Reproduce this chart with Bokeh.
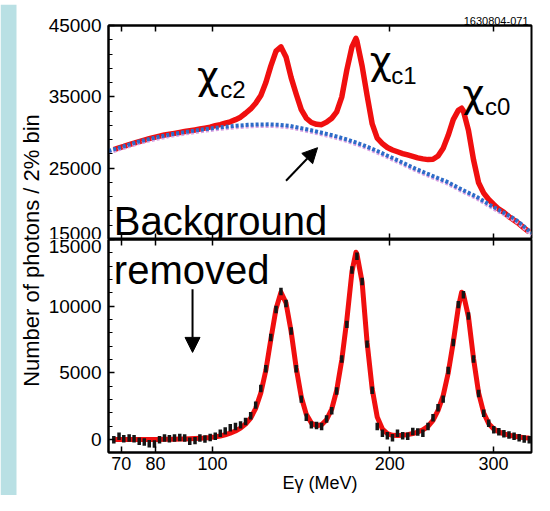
import numpy as np
from bokeh.plotting import figure
from bokeh.layouts import row, column
from bokeh.models import (Range1d, FixedTicker, LogAxis, Label, Arrow, NormalHead,
                          BoxAnnotation, PrintfTickFormatter, CustomJSTickFormatter)
from bokeh.embed import file_html
from bokeh.resources import INLINE

# ---------------- data ----------------
X_TICKS = [70, 80, 100, 200, 300]
TOP_YTICKS = [15000, 25000, 35000, 45000]
TOP_YMINOR = list(range(15000, 45001, 2000))
BOT_YTICKS = [0, 5000, 10000, 15000]
BOT_YMINOR = list(range(-1000, 15001, 1000))

# photon energy bin centres (MeV), 2% bins
E = [68.0, 69.4, 70.7, 72.2, 73.6, 75.1, 76.6, 78.1, 79.7, 81.3,
     82.9, 84.5, 86.2, 88.0, 89.7, 91.5, 93.4, 95.2, 97.1, 99.1,
     101.1, 103.1, 105.1, 107.2, 109.4, 111.6, 113.8, 116.1, 118.4, 120.8,
     123.2, 125.6, 128.2, 130.7, 133.3, 136.0, 138.7, 141.5, 144.3, 147.2,
     150.2, 153.2, 156.2, 159.4, 162.5, 165.8, 169.1, 172.5, 175.9, 179.5,
     183.0, 186.7, 190.4, 194.3, 198.1, 202.1, 206.1, 210.3, 214.5, 218.8,
     223.1, 227.6, 232.2, 236.8, 241.5, 246.4, 251.3, 256.3, 261.4, 266.7,
     272.0, 277.4, 283.0, 288.7, 294.4, 300.3, 306.3, 312.4, 318.7, 325.1,
     331.6, 338.2, 345.0]
# background-subtracted counts
SIG = [0, 250, 70, 120, 70, -120, -170, -300, -320, 0,
       120, 70, 120, 170, 120, -120, -70, 120, 50, 170,
       250, 490, 660, 900, 990, 1110, 1360, 1800, 2590, 3830,
       5310, 7650, 9750, 11110, 10200, 8150, 5310, 3040, 1680, 1110,
       1060, 990, 1550, 2170, 3650, 6050, 8640, 12720, 13750, 11850,
       7160, 3700, 990, 490, 290, 150, 490, 300, 250, 620,
       570, 490, 990, 1650, 2400, 3040, 5180, 7280, 10120, 10860,
       9260, 6050, 3460, 1980, 1230, 740, 600, 450, 350, 250,
       150, 50, 0]
ERR = 280

FIT_E = [68.0, 69.4, 70.7, 72.2, 73.6, 75.1, 76.6, 78.1, 79.7, 81.3,
         82.9, 84.5, 86.2, 88.0, 89.7, 91.5, 93.4, 95.2, 97.1, 99.1,
         101.1, 103.1, 105.1, 107.2, 109.4, 111.6, 113.8, 116.1, 118.4, 120.8,
         123.2, 125.6, 128.2, 130.7, 133.3, 136.0, 138.7, 141.5, 144.3, 147.2,
         150.2, 153.2, 156.2, 159.4, 162.5, 165.8, 169.1, 172.5, 175.2, 175.9, 179.5,
         183.0, 186.7, 190.4, 194.3, 198.1, 202.1, 206.1, 210.3, 214.5, 218.8,
         223.1, 227.6, 232.2, 236.8, 241.5, 246.4, 251.3, 256.3, 261.4, 264.8, 266.7,
         272.0, 277.4, 283.0, 288.7, 294.4, 300.3, 306.3, 312.4, 318.7, 325.1,
         331.6, 338.2, 345.0]
FIT_SIG = [20, 20, 20, 20, 20, 20, 20, 20, 20, 20,
           25, 30, 35, 45, 55, 65, 80, 100, 125, 160,
           210, 280, 370, 490, 650, 870, 1170, 1620, 2350, 3500,
           5200, 7500, 9800, 11050, 10250, 8100, 5400, 3200, 1900, 1250,
           1050, 1120, 1500, 2300, 3700, 6000, 9000, 12600, 14050, 13900, 11800,
           7300, 3800, 1700, 800, 450, 330, 310, 330, 380, 460,
           570, 740, 1000, 1450, 2200, 3300, 5000, 7300, 9900, 11050, 10900,
           9200, 6100, 3500, 2000, 1200, 800, 580, 440, 340, 260,
           200, 150, 120]
TOP_TOTAL = [27600, 27850, 28050, 28300, 28500, 28730, 28940, 29130, 29320, 29490,
             29650, 29760, 29880, 30010, 30130, 30240, 30360, 30480, 30610, 30750,
             30950, 31100, 31300, 31500, 31800, 32150, 32700, 33300, 34100, 35200,
             37000, 39300, 41400, 42000, 40600, 37700, 35400, 33200, 32000, 31400,
             31150, 31100, 31450, 32000, 32900, 35000, 38800, 42000, 43200, 42800, 39300,
             35200, 31200, 29200, 28450, 27900, 27550, 27300, 27050, 26850, 26650,
             26450, 26300, 26200, 26250, 26700, 27800, 29600, 31800, 33100, 33400, 33000,
             30300, 26200, 22950, 21500, 20600, 19900, 19250, 18800, 18200, 17700,
             17200, 16600, 16050]

BG_E = [66.6, 70, 75, 80, 85, 90, 95, 100, 105, 110,
        115, 120, 125, 130, 135, 140, 145, 150, 160, 170,
        180, 190, 200, 210, 220, 235, 250, 265, 280, 295,
        310, 325, 335, 348]
BG_BLUE = [27400, 27950, 28730, 29300, 29750, 30080, 30370, 30600, 30800, 30960,
           31070, 31130, 31140, 31080, 30950, 30680, 30420, 30150, 29600, 28970,
           28250, 27450, 26600, 25800, 25000, 24000, 23100, 22000, 21050, 19900,
           18900, 17950, 17100, 15900]
BG_PINK = [27150, 27700, 28480, 29050, 29500, 29830, 30120, 30350, 30550, 30710,
           30820, 30880, 30890, 30830, 30700, 30430, 30170, 29900, 29350, 28720,
           28000, 27200, 26350, 25550, 24750, 23750, 22850, 21750, 20800, 19650,
           18650, 17700, 16850, 15650]

# ---------------- style ----------------
FONT = "Liberation Sans"
CHI_FONT = "DejaVu Sans"
PAGE_BLUE = "#b9e0e4"
RED = "#f00f0f"
BLUE = "#2d6cc8"
PINK = "#d9a0e2"

x_range = Range1d(66.6, 348)
EMPTY = CustomJSTickFormatter(code="return '';")


def style_axis(ax, labels=True):
    ax.axis_line_color = "black"
    ax.axis_line_width = 2
    ax.major_tick_in = 6
    ax.major_tick_out = 0
    ax.minor_tick_in = 4
    ax.minor_tick_out = 0
    ax.major_tick_line_width = 1.5
    ax.minor_tick_line_width = 1.2
    ax.major_tick_line_color = "black"
    ax.minor_tick_line_color = "black"
    ax.major_label_text_font = FONT
    ax.major_label_text_color = "black"
    ax.major_label_text_font_size = "19px"
    ax.major_label_standoff = 7
    if not labels:
        ax.formatter = EMPTY
        ax.major_label_text_font_size = "1px"
        ax.major_label_standoff = 0


def xticker():
    return FixedTicker(ticks=X_TICKS, minor_ticks=[])


# ---------------- thin top band ----------------
band = figure(width=534, height=4, output_backend="svg", toolbar_location=None,
              title=None, min_border=0, x_axis_location=None, y_axis_location=None)
band.background_fill_color = PAGE_BLUE
band.border_fill_color = PAGE_BLUE
band.outline_line_color = None
band.grid.visible = False

# ---------------- top panel ----------------
top = figure(width=489, height=235, x_axis_type="log", x_range=x_range,
             y_range=Range1d(15000, 45000), output_backend="svg",
             toolbar_location=None, title="1630804-071",
             min_border_left=62, min_border_right=3, min_border_top=21,
             min_border_bottom=0)
top.title.align = "right"
top.title.text_font = FONT
top.title.text_font_size = "11px"
top.title.text_font_style = "normal"
top.title.text_color = "black"
top.title.standoff = 2
top.title.offset = 3
top.grid.visible = False
top.outline_line_color = "black"
top.outline_line_width = 2
top.xaxis.ticker = xticker()
style_axis(top.xaxis[0], labels=False)
ax_top = LogAxis(ticker=xticker())
style_axis(ax_top, labels=False)
top.add_layout(ax_top, "above")
top.yaxis.ticker = FixedTicker(ticks=TOP_YTICKS, minor_ticks=TOP_YMINOR)
top.yaxis.formatter = PrintfTickFormatter(format="%d")
style_axis(top.yaxis[0])

top.line(FIT_E, TOP_TOTAL, line_color=RED, line_width=5.5, line_join="round")
top.line(BG_E, BG_PINK, line_color=PINK, line_width=3.5, line_dash="3 2")
top.line(BG_E, BG_BLUE, line_color=BLUE, line_width=4, line_dash="3 2")


def chi_label(fig, x, y, xs, ys, sub):
    fig.add_layout(Label(x=x, y=y, text="\u03c7", text_font=CHI_FONT,
                         text_font_size="38px", text_color="black",
                         text_align="left", text_baseline="alphabetic"))
    fig.add_layout(Label(x=xs, y=ys, text=sub, text_font=FONT,
                         text_font_size="24px", text_color="black",
                         text_align="left", text_baseline="alphabetic"))


chi_label(top, 94.1, 37900, 103.1, 35970, "c2")
chi_label(top, 184.9, 40000, 201.1, 38050, "c1")
chi_label(top, 265.8, 35400, 290.2, 33610, "c0")

top.add_layout(Label(x=68.0, y=17640, text="Background", text_font=FONT,
                     text_font_size="40px", text_color="black",
                     text_align="left", text_baseline="alphabetic"))
top.add_layout(Arrow(end=NormalHead(size=15, fill_color="black", line_color="black"),
                     x_start=133.3, y_start=23230, x_end=150.8, y_end=27870,
                     line_width=2, line_color="black"))

# ---------------- bottom panel ----------------
bot = figure(width=489, height=256, x_axis_type="log", x_range=x_range,
             y_range=Range1d(-960, 15000), output_backend="svg",
             toolbar_location=None, title=None,
             min_border_left=62, min_border_right=3, min_border_top=0,
             min_border_bottom=43)
bot.grid.visible = False
bot.outline_line_color = "black"
bot.outline_line_width = 2
bot.xaxis.ticker = xticker()
bot.xaxis.formatter = PrintfTickFormatter(format="%d")
style_axis(bot.xaxis[0])
bot.xaxis.major_label_text_font_size = "18px"
bot.xaxis.major_label_standoff = 4
bot.xaxis.axis_label = "E\u03b3 (MeV)"
bot.xaxis.axis_label_text_font = FONT
bot.xaxis.axis_label_text_font_size = "18px"
bot.xaxis.axis_label_text_font_style = "normal"
bot.xaxis.axis_label_text_color = "black"
bot.xaxis.axis_label_standoff = 0
ax_bt = LogAxis(ticker=xticker())
style_axis(ax_bt, labels=False)
bot.add_layout(ax_bt, "above")
bot.yaxis.ticker = FixedTicker(ticks=BOT_YTICKS, minor_ticks=BOT_YMINOR)
bot.yaxis.formatter = PrintfTickFormatter(format="%d")
style_axis(bot.yaxis[0])

bot.line(FIT_E, FIT_SIG, line_color=RED, line_width=5, line_join="round")
sig = np.array(SIG, dtype=float)
bot.segment(x0=E, y0=sig - ERR, x1=E, y1=sig + ERR, line_color="#151515",
            line_width=3.5)

bot.add_layout(Label(x=68.0, y=12720, text="removed", text_font=FONT,
                     text_font_size="40px", text_color="black",
                     text_align="left", text_baseline="alphabetic"))
bot.add_layout(Arrow(end=NormalHead(size=15, fill_color="black", line_color="black"),
                     x_start=92.5, y_start=11270, x_end=92.5, y_end=6540,
                     line_width=2, line_color="black"))

# ---------------- left strip with y label ----------------
lf = figure(width=45, height=491, x_range=Range1d(0, 45), y_range=Range1d(0, 491),
            output_backend="svg", toolbar_location=None, title=None,
            min_border=0, x_axis_location=None, y_axis_location=None)
lf.grid.visible = False
lf.outline_line_color = None
lf.add_layout(BoxAnnotation(left=0, right=16, fill_color=PAGE_BLUE, fill_alpha=1,
                            line_color=None))
lf.add_layout(Label(x=31, y=245, text="Number of photons / 2% bin", angle=np.pi / 2,
                    text_font=FONT, text_font_size="22px", text_color="black",
                    text_align="center", text_baseline="middle"))

layout = column(band, row(lf, column(top, bot, spacing=0), spacing=0), spacing=0)

open("out.html", "w").write(file_html(layout, INLINE))
